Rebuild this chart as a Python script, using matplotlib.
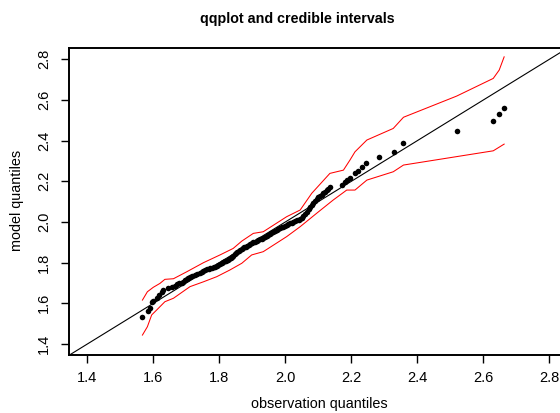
import numpy as np
import matplotlib.pyplot as plt

plt.rcParams['font.family'] = ['Liberation Sans', 'DejaVu Sans']

# qq points (observation, model quantile)
obs_q = [1.567, 1.585, 1.589, 1.595, 1.600, 1.612, 1.618, 1.625, 1.630, 1.645,
         1.656, 1.666, 1.673, 1.679, 1.686, 1.691, 1.697, 1.701, 1.706, 1.711,
         1.718, 1.726, 1.733, 1.742, 1.748, 1.752, 1.757, 1.763, 1.768, 1.772,
         1.778, 1.783, 1.787, 1.792, 1.797, 1.802, 1.807, 1.812, 1.817, 1.821,
         1.826, 1.830, 1.834, 1.838, 1.842, 1.846, 1.851, 1.855, 1.859, 1.864,
         1.868, 1.872, 1.876, 1.881, 1.885, 1.889, 1.894, 1.898, 1.903, 1.908,
         1.913, 1.918, 1.923, 1.928, 1.933, 1.938, 1.943, 1.948, 1.953, 1.958,
         1.964, 1.969, 1.974, 1.979, 1.984, 1.989, 1.994, 1.999, 2.004, 2.009,
         2.014, 2.019, 2.024, 2.029, 2.034, 2.040, 2.045, 2.050, 2.055, 2.060,
         2.066, 2.071, 2.075, 2.080, 2.085, 2.090, 2.095, 2.100, 2.105, 2.110,
         2.115, 2.120, 2.125, 2.130, 2.135, 2.171, 2.181, 2.188, 2.196, 2.211,
         2.219, 2.232, 2.245, 2.285, 2.330, 2.356, 2.521, 2.630, 2.647, 2.663]
model_q = [1.531, 1.564, 1.577, 1.606, 1.613, 1.628, 1.641, 1.654, 1.665, 1.674,
           1.682, 1.687, 1.693, 1.698, 1.702, 1.707, 1.714, 1.722, 1.727, 1.731,
           1.735, 1.739, 1.745, 1.751, 1.756, 1.760, 1.764, 1.768, 1.771, 1.773,
           1.776, 1.779, 1.781, 1.786, 1.790, 1.794, 1.798, 1.802, 1.806, 1.809,
           1.813, 1.817, 1.823, 1.829, 1.835, 1.841, 1.847, 1.852, 1.857, 1.862,
           1.866, 1.870, 1.875, 1.879, 1.884, 1.889, 1.893, 1.897, 1.900, 1.903,
           1.906, 1.910, 1.914, 1.918, 1.922, 1.928, 1.933, 1.938, 1.943, 1.947,
           1.952, 1.957, 1.962, 1.966, 1.970, 1.973, 1.976, 1.980, 1.984, 1.989,
           1.993, 1.997, 2.001, 2.004, 2.008, 2.012, 2.016, 2.020, 2.028, 2.040,
           2.050, 2.062, 2.073, 2.085, 2.095, 2.105, 2.114, 2.121, 2.128, 2.135,
           2.141, 2.148, 2.155, 2.162, 2.170, 2.182, 2.198, 2.206, 2.215, 2.239,
           2.251, 2.272, 2.290, 2.318, 2.345, 2.387, 2.449, 2.498, 2.531, 2.562]

# credible interval bounds
upper_x = [1.567, 1.582, 1.600, 1.620, 1.635, 1.661, 1.701, 1.752, 1.802, 1.842,
           1.868, 1.903, 1.933, 2.004, 2.045, 2.080, 2.135, 2.176, 2.196, 2.211,
           2.247, 2.327, 2.358, 2.519, 2.630, 2.648, 2.663]
upper_y = [1.616, 1.657, 1.679, 1.698, 1.718, 1.721, 1.755, 1.800, 1.838, 1.870,
           1.906, 1.944, 1.952, 2.026, 2.059, 2.141, 2.239, 2.255, 2.305, 2.345,
           2.403, 2.460, 2.515, 2.619, 2.706, 2.747, 2.812]
lower_x = [1.567, 1.582, 1.595, 1.610, 1.635, 1.661, 1.711, 1.752, 1.792, 1.832,
           1.868, 1.898, 1.933, 2.004, 2.045, 2.095, 2.145, 2.186, 2.211, 2.247,
           2.327, 2.358, 2.630, 2.663]
lower_y = [1.444, 1.485, 1.543, 1.567, 1.608, 1.625, 1.682, 1.706, 1.731, 1.764,
           1.797, 1.838, 1.854, 1.928, 1.977, 2.043, 2.108, 2.157, 2.157, 2.206,
           2.247, 2.280, 2.350, 2.383]

ticks = [1.4, 1.6, 1.8, 2.0, 2.2, 2.4, 2.6, 2.8]

W, H = 560, 413
fig = plt.figure(figsize=(W / 100, H / 100), dpi=100)
ax = fig.add_axes([69 / W, 1 - 355 / H, (568.5 - 69) / W, (355 - 47.5) / H])

ax.plot(upper_x, upper_y, color='red', lw=0.75)
ax.plot(lower_x, lower_y, color='red', lw=0.75)
ax.axline((1.4, 1.4), (2.8, 2.8), color='black', lw=0.8)
ax.plot(obs_q, model_q, 'o', color='black', ms=4.0, mec='none')

ax.set_xlim(1.3445, 2.858)
ax.set_ylim(1.346, 2.858)
ax.set_xticks(ticks)
ax.set_yticks(ticks)
ax.set_xticklabels(['%.1f' % t for t in ticks])
ax.set_yticklabels(['%.1f' % t for t in ticks], rotation=90, va='center')
ax.tick_params(axis='both', direction='out', length=6, width=1, labelsize=10.5)
ax.tick_params(axis='x', pad=5.5)
ax.tick_params(axis='y', pad=7)
for s in ax.spines.values():
    s.set_linewidth(1.4)

fig.text(297.5 / W, 1 - 19 / H, 'qqplot and credible intervals', ha='center', va='center',
         fontsize=10.3, fontweight='bold')
fig.text(319.5 / W, 1 - 404 / H, 'observation quantiles', ha='center', va='center', fontsize=10.4)
fig.text(17.5 / W, 1 - 200 / H, 'model quantiles', ha='center', va='center', rotation=90,
         fontsize=10.4)

fig.savefig('out.png', dpi=100)
